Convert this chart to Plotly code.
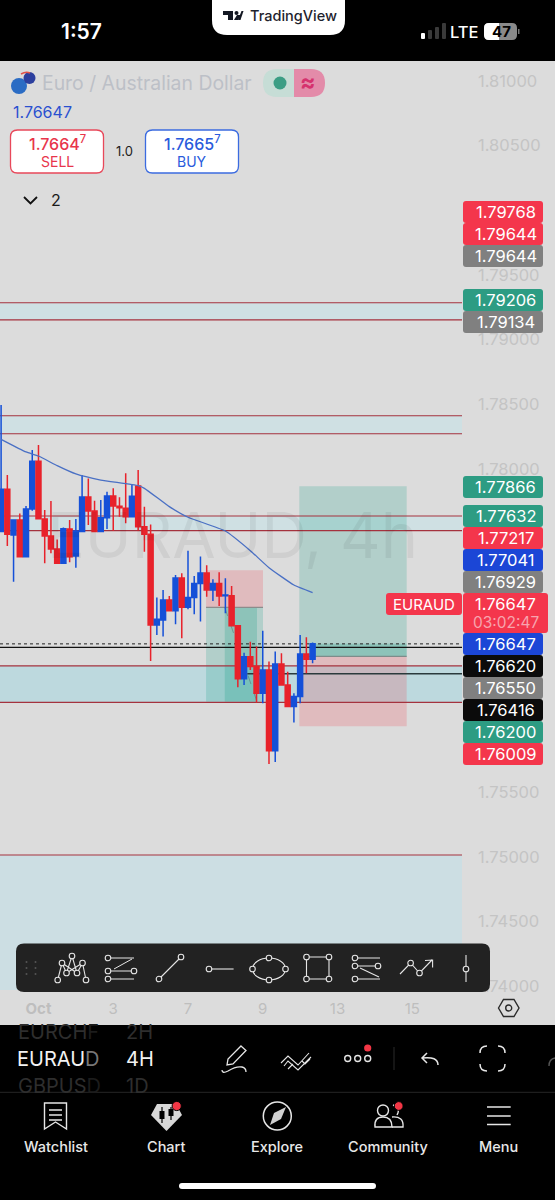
import plotly.graph_objects as go

W, H = 555, 1200
FONT = "Inter"

# ---------- chart data ----------
candle_index = list(range(51))
opens = [1.77515,1.77842,1.77489,1.77605,1.77321,1.77690,1.78059,1.77613,1.77481,1.77381,
         1.77270,1.77535,1.77326,1.77515,1.77783,1.77675,1.77515,1.77623,1.77791,1.77711,
         1.77695,1.77631,1.77868,1.77553,1.77494,1.76793,1.76832,1.76987,1.76904,1.77157,
         1.76930,1.77005,1.77113,1.77195,1.77064,1.77113,1.77020,1.77020,1.76788,1.76378,
         1.76548,1.76471,1.76265,1.76445,1.75821,1.76492,1.76329,1.76162,1.76239,1.76569,1.76528]
highs = [1.78494,1.77953,1.77605,1.77656,1.77713,1.78146,1.78185,1.77682,1.77752,1.77455,
         1.77546,1.77605,1.77613,1.77953,1.77925,1.77754,1.77760,1.77824,1.77850,1.77780,
         1.77966,1.77876,1.77992,1.77708,1.77571,1.77005,1.77064,1.77018,1.77180,1.77193,
         1.77368,1.77172,1.77322,1.77255,1.77146,1.77201,1.77154,1.77095,1.76793,1.76579,
         1.76664,1.76626,1.76749,1.76510,1.76587,1.76574,1.76432,1.76265,1.76716,1.76698,1.76657]
lows = [1.77515,1.77404,1.77128,1.77321,1.77321,1.77677,1.77615,1.77270,1.77347,1.77270,
        1.77270,1.77278,1.77236,1.77515,1.77566,1.77515,1.77515,1.77535,1.77522,1.77631,
        1.77579,1.77631,1.77522,1.77360,1.76515,1.76716,1.76703,1.76904,1.76798,1.76690,
        1.76914,1.76876,1.76819,1.77012,1.76979,1.76940,1.76884,1.76788,1.76311,1.76329,
        1.76445,1.76193,1.76187,1.75718,1.75734,1.76329,1.76162,1.76038,1.76187,1.76419,1.76497]
closes = [1.77842,1.77494,1.77605,1.77321,1.77690,1.78059,1.77615,1.77481,1.77381,1.77270,
          1.77538,1.77321,1.77520,1.77783,1.77675,1.77515,1.77623,1.77791,1.77713,1.77700,
          1.77631,1.77788,1.77553,1.77494,1.76793,1.76837,1.76987,1.76904,1.77157,1.76930,
          1.77005,1.77113,1.77195,1.77064,1.77113,1.77018,1.77025,1.76788,1.76378,1.76548,
          1.76471,1.76265,1.76445,1.75821,1.76492,1.76329,1.76162,1.76239,1.76569,1.76528,1.76647]

ma_index = [0,4,6,9,12,16,22,23,27,30,36,40,43,47,50]
ma_values = [1.78229,1.78131,1.78100,1.78025,1.77961,1.77914,1.77870,1.77850,1.77708,
             1.77626,1.77520,1.77368,1.77236,1.77102,1.77043]

price_range = [1.7397, 1.81147]
time_range = [-0.177, 73.98]
price_ticks = [1.74,1.745,1.75,1.755,1.78,1.785,1.79,1.795,1.805,1.81]
time_ticks = [6,18,30,42,54,66]
time_labels = ["<b>Oct</b>","3","7","9","13","15"]

zone_tops = [1.79285,1.78411,1.77636,1.76476,1.75014]
zone_bottoms = [1.79152,1.78272,1.77522,1.76195,1.7397]
zone_colors = ["#CFE0E3","#CFE0E3","#CFE0E3","#BDD9DE","#CCDEE3"]
level_lines = [1.79285,1.79152,1.78411,1.78272,1.77636,1.77522,1.76476,1.76195,1.75014]

last_price = 1.76647
black_level_a = 1.76620
black_level_b = 1.76416

pos1_x = [32.9,42.04]
pos1_progress_x = [35.9,41.07]
pos1_stop, pos1_entry, pos1_target = 1.77217,1.76929,1.76200
pos2_x = [47.87,65.1]
pos2_progress_x = [50.06,65.1]
pos2_target, pos2_entry, pos2_stop = 1.77866,1.76550,1.76009

label_texts = ["1.79768","1.79644","1.79644","1.79206","1.79134","1.77866","1.77632","1.77217",
               "1.77041","1.76929","1.76647","1.76620","1.76550","1.76416","1.76200","1.76009"]
label_centers = [212,234,256,300,322,487,516,538,560,582,644,666,688,710,732,754]
RED,GRAY,GRN,BLU,BLK = "#F4364C","#808080","#2D9C83","#1B46D6","#0B0B0B"
label_colors = [RED,RED,GRAY,GRN,GRAY,GRN,GRN,RED,BLU,GRAY,BLU,BLK,GRAY,BLK,GRN,RED]

# ---------- helpers: screen furniture in pixels ----------
def px(x): return x / W
def py(y): return 1 - y / H

def P(d):
    out, is_x = [], True
    for t in d.split():
        if t.isalpha():
            out.append(t); is_x = True
        else:
            v = float(t)
            out.append(f"{px(v):.5f}" if is_x else f"{py(v):.5f}")
            is_x = not is_x
    return " ".join(out)

below, above, notes = [], [], []

def path(d, fill=None, line=None, w=1.3, layer="above"):
    s = dict(type="path", xref="paper", yref="paper", path=P(d), layer=layer,
             line=dict(color=line or "rgba(0,0,0,0)", width=w if line else 0))
    if fill: s["fillcolor"] = fill
    (above if layer == "above" else below).append(s)

def rrect(x0, y0, x1, y1, r=0, fill=None, line=None, w=1.3, layer="above"):
    if r == 0:
        d = f"M {x0} {y0} L {x1} {y0} L {x1} {y1} L {x0} {y1} Z"
    else:
        d = (f"M {x0+r} {y0} L {x1-r} {y0} Q {x1} {y0} {x1} {y0+r} L {x1} {y1-r} Q {x1} {y1} {x1-r} {y1} "
             f"L {x0+r} {y1} Q {x0} {y1} {x0} {y1-r} L {x0} {y0+r} Q {x0} {y0} {x0+r} {y0} Z")
    path(d, fill, line, w, layer)

def circ(cx, cy, rx, fill=None, line=None, w=1.3, ry=None, layer="above"):
    ry = rx if ry is None else ry
    s = dict(type="circle", xref="paper", yref="paper", x0=px(cx-rx), x1=px(cx+rx),
             y0=py(cy+ry), y1=py(cy-ry), layer=layer,
             line=dict(color=line or "rgba(0,0,0,0)", width=w if line else 0))
    if fill: s["fillcolor"] = fill
    (above if layer == "above" else below).append(s)

def T(text, x, y, size, color, anchor="center", weight=400, family=FONT):
    notes.append(dict(text=text, xref="paper", yref="paper", x=px(x), y=py(y), xanchor=anchor,
                      yanchor="middle", showarrow=False, borderpad=0,
                      font=dict(family=family, size=size, color=color, weight=weight)))

# ---------- panel ----------
rrect(0, 61, W, 1025, fill="#DCDCDC", layer="below")

# ---------- data-referenced drawing ----------
data_shapes = []
for t, b, c in zip(zone_tops, zone_bottoms, zone_colors):
    data_shapes.append(dict(type="rect", xref="x", yref="y", x0=time_range[0], x1=time_range[1], y0=b, y1=t,
                            fillcolor=c, line=dict(width=0), layer="below"))

GREEN_A = "rgba(8,153,129,0.2)"
RED_A = "rgba(242,54,69,0.2)"
DARK_A = "rgba(8,153,129,0.22)"
def zone(x, a, b, c):
    data_shapes.append(dict(type="rect", xref="x", yref="y", x0=x[0], x1=x[1], y0=a, y1=b,
                            fillcolor=c, line=dict(width=0), layer="below"))
zone(pos1_x, pos1_entry, pos1_stop, RED_A)
zone(pos1_x, pos1_target, pos1_entry, GREEN_A)
zone(pos1_progress_x, pos1_target, pos1_entry, DARK_A)
zone(pos2_x, pos2_entry, pos2_target, GREEN_A)
zone(pos2_x, pos2_stop, pos2_entry, RED_A)
zone(pos2_progress_x, pos2_entry, last_price, DARK_A)

def hline(y, x0, x1, color, w, dash="solid"):
    data_shapes.append(dict(type="line", xref="x", yref="y", x0=x0, x1=x1, y0=y, y1=y,
                            line=dict(color=color, width=w, dash=dash), layer="below"))
for lv in level_lines:
    hline(lv, time_range[0], time_range[1], "#A5323E", 1.2)
hline(pos1_entry, pos1_x[0], pos1_x[1], "#8C8C8C", 1.2)
hline(pos2_entry, pos2_x[0], pos2_x[1], "#7E8C8A", 1.2)
hline(last_price, time_range[0], time_range[1], "#222222", 1, "dot")
hline(black_level_a, time_range[0], time_range[1], "#111111", 1.4)
hline(black_level_b, 39.5, time_range[1], "#2A3A3C", 1.3)
data_shapes.append(dict(type="line", xref="x", yref="y", x0=pos1_progress_x[0], x1=pos1_progress_x[1],
                        y0=pos1_entry, y1=pos1_target, layer="below",
                        line=dict(color="rgba(90,110,110,0.55)", width=1, dash="dash")))

# ---------- status bar ----------
T("1:57", 81, 32, 21, "#FFFFFF", weight=600)
path("M 212 0 L 345 0 L 345 20 Q 345 35 330 35 L 227 35 Q 212 35 212 20 Z", fill="#FFFFFF")
path("M 223 11 L 233 11 L 233 20 L 228 20 L 228 15 L 223 15 Z", fill="#131722")
circ(236.5, 13, 2, fill="#131722")
path("M 238 20 L 241.5 11 L 243.5 11 L 240.5 20 Z", fill="#131722")
path("M 234 20 L 237 15 L 241 15 L 238 20 Z", fill="#131722")
T("TradingView", 249, 16, 14.5, "#1E222D", anchor="left", weight=500)

rrect(421, 33, 425, 39, 1, fill="#FFFFFF")
rrect(428, 30, 432, 39, 1, fill="#3A3A3A")
rrect(435, 27, 439, 39, 1, fill="#3A3A3A")
rrect(442, 23, 446, 39, 1, fill="#3A3A3A")
T("LTE", 464, 32, 16.5, "#FFFFFF", weight=500)
rrect(484, 23, 517, 40, 5, fill="#8A8A8A")
path("M 489 23 L 499 23 L 499 40 L 489 40 Q 484 40 484 35 L 484 28 Q 484 23 489 23 Z", fill="#FFFFFF")
rrect(518, 29, 519.5, 34, fill="#777777")
T("47", 501, 32, 15, "#000000", weight=700)

# ---------- header ----------
circ(19, 86, 8, fill="#2B6CC4")
circ(29.5, 78, 6, fill="#2C3F9E")
path("M 21 74 Q 26 71 30 73", line="#E0524A", w=1.6)
T("Euro / Australian Dollar", 41, 83, 19.4, "#BCC0C7", anchor="left")
path("M 277 69 L 294 69 L 294 97 L 277 97 Q 263 97 263 83 Q 263 69 277 69 Z", fill="#C6DDD6")
path("M 294 69 L 311 69 Q 325 69 325 83 Q 325 97 311 97 L 294 97 Z", fill="#E38BA9")
circ(280, 83, 6.5, fill="#3B9E85")
T("≈", 308, 82, 23, "#D6326E", weight=700)
T("1.76647", 12, 112, 16, "#2A50D0", anchor="left")

rrect(10.5, 130, 103.5, 173, 7, fill="#FFFFFF", line="#E8485A", w=1.3)
T("1.7664<sup>7</sup>", 57, 143, 16, "#E8354B", weight=500)
T("SELL", 57, 161, 14, "#E8354B")
T("1.0", 124.5, 151, 13, "#222222")
rrect(145.5, 130, 238.5, 173, 7, fill="#FFFFFF", line="#3B6BE0", w=1.3)
T("1.7665<sup>7</sup>", 192, 143, 16, "#2A5BDC", weight=500)
T("BUY", 192, 161, 14, "#2A5BDC")
path("M 24 197 L 30.5 203.5 L 37 197", line="#111111", w=1.8)
T("2", 56, 200, 16, "#1A1A1A")

# ---------- watermark ----------
T("EURAUD, 4h", 232, 535, 63, "rgba(0,0,0,0.06)")

# ---------- price labels ----------
for text, yc, col in zip(label_texts, label_centers, label_colors):
    rrect(463, yc-11, 543, yc+11, 3, fill=col)
    T(text, 505.5, yc, 16.5, "#FFFFFF")
rrect(386, 593, 462, 615, 3, fill=RED)
T("EURAUD", 424, 604, 15, "#FFFFFF")
rrect(463, 593, 548, 633, 3, fill=RED)
T("1.76647", 505.5, 604, 16.5, "#FFFFFF")
T("03:02:47", 506, 622, 15.5, "#F7A4AE")

# ---------- drawing toolbar ----------
rrect(16, 943.5, 490, 992, 8, fill="#222222")
for gx in (26.5, 35.5):
    for gy in (962, 968, 974):
        circ(gx, gy, 1, fill="#555555")
IC = "#E6E6E6"
def node(x, y, r=2.8):
    circ(x, y, r, fill="#222222", line=IC, w=1.1)
path("M 57.7 980 L 62 963 L 66.5 973 L 72 956 L 77 973 L 82.5 963 L 86 980 M 62 963 L 77 973 M 82.5 963 L 66.5 973", line=IC, w=1.1)
for n in [(72,956),(62,963),(82.5,963),(66.5,973),(77,973),(57.7,980),(86,980)]:
    node(*n)
path("M 108 958 L 134 958 M 108 971 L 134 971 M 108 979 L 134 979", line=IC, w=1.1)
path("M 114 969 L 132 959", line=IC, w=1)
for n in [(108,958),(108,971),(134,971),(108,979)]:
    node(*n)
path("M 159 979 L 181 957", line=IC, w=1.1); node(159,979); node(181,957)
path("M 209 969 L 233.6 969", line=IC, w=1.1); node(209,969)
circ(269, 969, 16.5, line=IC, w=1.1, ry=11)
for n in [(252.5,969),(285.5,969),(269,958),(269,980)]:
    node(*n)
path("M 306.5 957 L 329 957 L 329 979 L 306.5 979 Z", line=IC, w=1.1)
for n in [(306.5,957),(329,957),(306.5,979),(329,979)]:
    node(*n)
path("M 355 958 L 380 958 M 355 966 L 378 966 M 355 979 L 380 979 M 360 968 L 379 977", line=IC, w=1.1)
for n in [(355,958),(355,966),(378,966),(355,979)]:
    node(*n)
path("M 400 974 L 410.6 963 L 419.5 973 L 432 960 M 425 960.5 L 432.6 960 L 432.6 967.5", line=IC, w=1.1)
node(410.6,963); node(419.5,973)
path("M 466 955 L 466 982", line=IC, w=1.1); node(466,969)

# ---------- hexagon settings ----------
path("M 498.5 1008 L 503.5 999.5 L 514 999.5 L 519 1008 L 514 1016.5 L 503.5 1016.5 Z", line="#2B2B2B", w=1.4, layer="below")
circ(508.7, 1008, 3, line="#2B2B2B", w=1.4, layer="below")

# ---------- bottom bar ----------
DIM = "#2E2E2E"
T('EURCH<span style="color:#1C1C1C">F</span>', 17, 1032, 20, DIM, anchor="left")
T("2H", 125, 1032, 20, DIM, anchor="left")
T('EURAU<span style="color:#777777">D</span>', 16, 1059, 20, "#F2F2F2", anchor="left")
T("4H", 125, 1059, 20, "#F2F2F2", anchor="left")
T('GBPUS<span style="color:#1C1C1C">D</span>', 17, 1086, 20, DIM, anchor="left")
T("1D", 125, 1086, 20, DIM, anchor="left")
path("M 0 1092.3 L 555 1092.3", line="#262626", w=1)

path("M 241 1046 L 246 1050.5 L 233 1064 L 227 1065 L 228 1059 Z M 222 1070 Q 222 1074 228 1071 Q 236 1066 242 1067 Q 246 1068 246 1072", line=IC, w=1.3)
path("M 281 1063 L 288 1056 L 298 1065 L 309 1053 M 288 1069 L 293 1064 M 302 1061 L 305 1064 L 310 1059 M 284 1066 L 288 1061 L 298 1070 L 311 1057", line=IC, w=1.1)
for cx in (347.7, 357.7, 367.7):
    circ(cx, 1058.5, 3, line=IC, w=1.4)
circ(367.7, 1048, 3.6, fill="#F23645")
path("M 394 1047 L 394 1070", line="#2A2A2A", w=1)
path("M 427 1053 L 422 1058 L 427 1063 M 422 1058 Q 438 1056 438 1065", line=IC, w=1.5)
path("M 480 1053 Q 480 1046 487 1046 M 498 1046 Q 505 1046 505 1053 M 505 1064 Q 505 1071 498 1071 M 487 1071 Q 480 1071 480 1064", line=IC, w=1.5)
path("M 555 1058 Q 549 1059 549 1066", line="#555555", w=1.4)

path("M 44.5 1103 L 66.5 1103 L 66.5 1129 L 55.5 1122 L 44.5 1129 Z", line=IC, w=1.4)
path("M 49 1110 L 62 1110 M 49 1115 L 62 1115 M 49 1120 L 62 1120", line=IC, w=1.3)
T("Watchlist", 55.7, 1146, 14.5, "#E8E8E8", weight=500)

path("M 157 1104 L 176 1104 L 182 1115 L 166.5 1131 L 151 1115 Z", fill="#D8D8D8")
path("M 162 1107 L 162 1123 M 171 1107 L 171 1120", line="#000000", w=1.2)
rrect(159.5, 1111, 164.5, 1119, fill="#000000")
rrect(168.5, 1109, 173.5, 1116, fill="#000000")
circ(176.7, 1106, 4.6, fill="#F23645", line="#000000", w=1)
T("Chart", 166, 1146, 14.5, "#E8E8E8", weight=500)

circ(277.3, 1116, 14, line=IC, w=1.5)
path("M 286 1107 L 281 1119 L 270 1125 L 274 1113 Z", fill="#D0D0D0")
T("Explore", 277, 1146, 14.5, "#E8E8E8", weight=500)

circ(383, 1110.5, 5.5, line=IC, w=1.4)
path("M 375 1127 Q 374 1117 383 1117 Q 392 1117 392 1127 Z", line=IC, w=1.4)
path("M 393 1105 Q 401 1108 397 1115 M 392 1117 Q 404 1116 403 1127 L 392 1127", line=IC, w=1.4)
circ(398.7, 1106, 4.4, fill="#F23645", line="#000000", w=1)
T("Community", 387.7, 1146, 14.5, "#E8E8E8", weight=500)

path("M 487 1107 L 510.7 1107 M 487 1116 L 510.7 1116 M 487 1124.5 L 510.7 1124.5", line=IC, w=1.5)
T("Menu", 498, 1146, 14.5, "#E8E8E8", weight=500)
rrect(179, 1183, 376, 1189, 3, fill="#FFFFFF")

# ---------- figure ----------
fig = go.Figure()
fig.add_trace(go.Candlestick(
    x=candle_index, open=opens, high=highs, low=lows, close=closes,
    increasing=dict(line=dict(color="#1550D8", width=1.5), fillcolor="#1550D8"),
    decreasing=dict(line=dict(color="#E8222B", width=1.5), fillcolor="#E8222B"),
    whiskerwidth=0, showlegend=False, hoverinfo="skip"))
fig.add_trace(go.Scatter(x=ma_index, y=ma_values, mode="lines", showlegend=False, hoverinfo="skip",
                         line=dict(color="#4A70C4", width=1.3, shape="spline", smoothing=0.4)))

fig.update_layout(
    width=W, height=H, autosize=False, margin=dict(l=0, r=0, t=0, b=0),
    paper_bgcolor="#000000", plot_bgcolor="rgba(0,0,0,0)", showlegend=False,
    boxgap=0.2, boxgroupgap=0,
    shapes=below + data_shapes + above, annotations=notes,
    font=dict(family=FONT),
    xaxis=dict(domain=[0, 462/W], range=time_range, tickmode="array", tickvals=time_ticks, ticktext=time_labels,
               tickfont=dict(size=15, color="#BEBEBE", family=FONT), ticks="", ticklen=0, showline=False,
               zeroline=False, showgrid=False, ticklabelstandoff=8,
               rangeslider=dict(visible=False), automargin=False),
    yaxis=dict(domain=[1-990/H, 1-62/H], range=price_range, side="right", tickmode="array", tickvals=price_ticks,
               tickformat=".5f", tickfont=dict(size=16.5, color="#C4C4C4", family=FONT), ticks="", ticklen=0,
               showline=False, zeroline=False, showgrid=False,
               ticklabelstandoff=15, automargin=False),
)

fig.write_html("out.html", config=dict(displayModeBar=False),
               post_script="document.body.style.margin='0';document.body.style.background='#000';document.body.style.overflow='hidden';")
